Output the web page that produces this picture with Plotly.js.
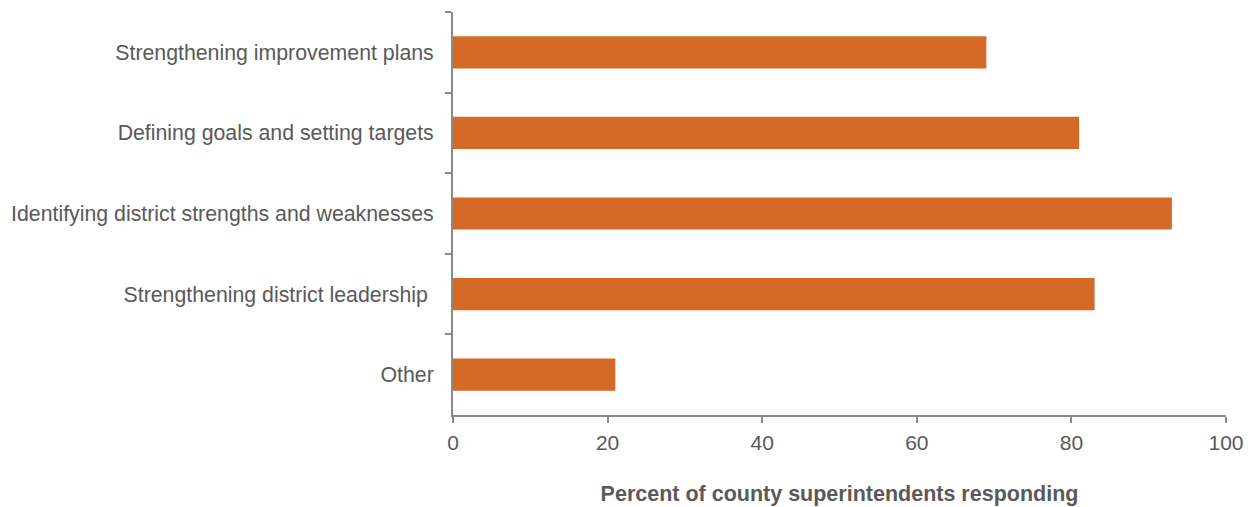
<!DOCTYPE html>
<html>
<head>
<meta charset="utf-8">
<script src="https://cdn.plot.ly/plotly-3.0.1.min.js"></script>
<style>html,body{margin:0;padding:0;background:#fff;}#chart{width:1256px;height:507px;}</style>
</head>
<body>
<div id="chart"></div>
<script>
const categories = [
  "Strengthening improvement plans",
  "Defining goals and setting targets",
  "Identifying district strengths and weaknesses",
  "Strengthening district leadership ",
  "Other"
];
const values = [69, 81, 93, 83, 21];
const xTicks = [0, 20, 40, 60, 80, 100];

const trace = {
  type: "bar",
  orientation: "h",
  x: values,
  y: categories,
  marker: {color: "#D56A27"},
  hoverinfo: "x+y"
};

const layout = {
  width: 1256,
  height: 507,
  margin: {l: 453, r: 30, t: 12, b: 92},
  paper_bgcolor: "#fff",
  plot_bgcolor: "#fff",
  bargap: 0.6,
  showlegend: false,
  font: {family: "Liberation Sans, Arial, sans-serif", size: 21, color: "#595959"},
  xaxis: {
    range: [0, 100],
    tickvals: xTicks,
    ticktext: xTicks.map(String),
    showgrid: false,
    zeroline: false,
    showline: true,
    linecolor: "#898989",
    linewidth: 2,
    ticks: "outside",
    ticklen: 6,
    tickcolor: "#898989",
    tickwidth: 2,
    tickfont: {size: 21, color: "#595959"},
    ticklabelstandoff: 2,
    title: {text: "<b>Percent of county superintendents responding</b>", font: {size: 21.5, color: "#595959"}, standoff: 33}
  },
  yaxis: {
    type: "category",
    categoryorder: "array",
    categoryarray: categories,
    autorange: "reversed",
    showgrid: false,
    zeroline: false,
    showline: true,
    linecolor: "#898989",
    linewidth: 2,
    ticks: "outside",
    tickson: "boundaries",
    ticklen: 6,
    tickcolor: "#898989",
    tickwidth: 2,
    tickfont: {size: 21.3, color: "#595959"},
    ticklabelstandoff: 13
  }
};

Plotly.newPlot("chart", [trace], layout, {displayModeBar: false, staticPlot: true});
</script>
</body>
</html>
